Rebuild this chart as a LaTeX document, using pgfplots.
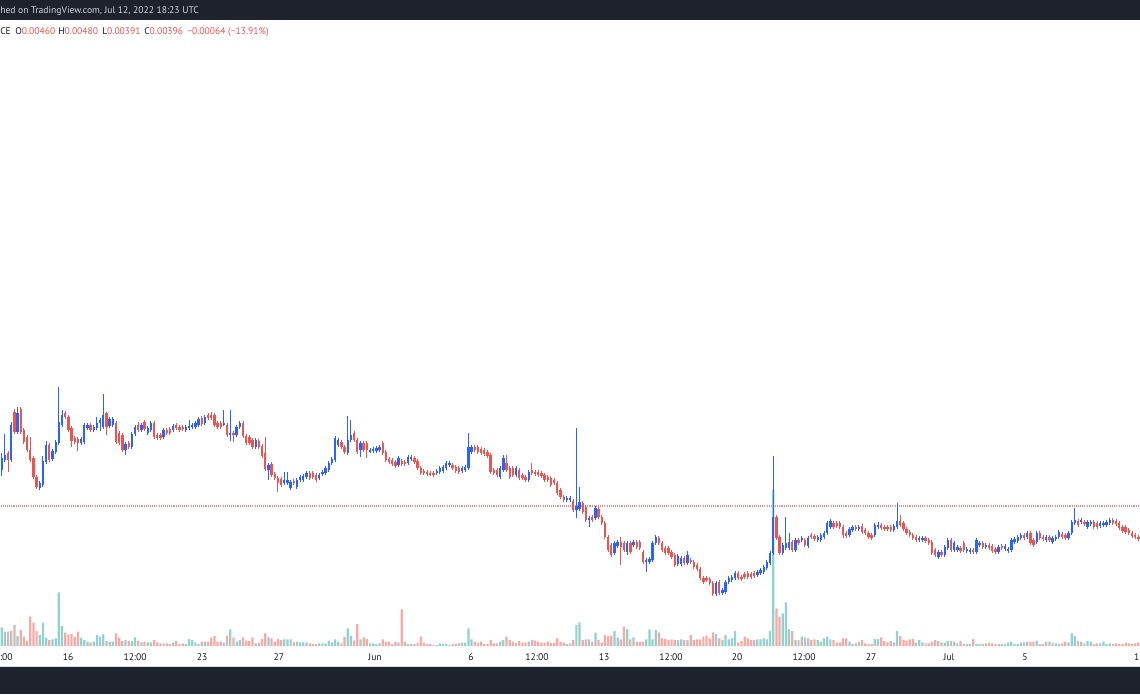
\documentclass[border=0pt]{standalone}
\usepackage{pgfplots}
\pgfplotsset{compat=1.18}
\usepackage{pgfplotstable}
\usepackage{fontspec}
\setmainfont{PT Sans}
\definecolor{tvblue}{HTML}{2962FF}
\definecolor{tvred}{HTML}{EF5350}
\definecolor{volup}{HTML}{92D2CC}
\definecolor{voldn}{HTML}{F7A9A7}
\definecolor{tvdark}{HTML}{1E222D}
\definecolor{tvtext}{HTML}{131722}
\definecolor{tvlight}{HTML}{D1D4DC}
\definecolor{dotred}{HTML}{F08A88}
% 4h candles; prices in units of 0.00001 (396 = 0.00396); v = relative volume
\pgfplotstableread{
o h l c v
432 449 426 444 18.7
442 468 440 447 14.3
449 451 430 442 14.3
442 480 440 477 15
490 493 468 470 21
470 495 468 489 10
493 495 468 470 16
472 474 458 460 9.3
465 467 450 452 5
452 465 440 442 29.3
444 446 423 425 23.3
425 427 413 415 15
414 421 412 419 11
417 446 415 441 23.3
440 461 438 457 8.3
457 459 440 442 6
443 453 441 451 6.7
450 462 448 460 7.7
459 515 457 480 53.7
477 492 475 487 20
489 491 483 485 13.3
485 487 470 472 11.7
474 476 455 461 12
464 466 458 460 9.3
463 465 451 459 14.3
459 465 457 463 8.3
460 479 458 477 6
474 479 472 477 4.3
477 479 470 472 3.7
472 477 470 475 4.3
474 485 472 479 11
479 484 471 482 9.3
475 508 473 487 11.7
489 490 467 475 5
476 485 474 483 4.3
477 485 475 483 4.3
479 481 458 460 12.7
469 471 457 459 8.3
467 469 450 452 5
452 460 447 458 6
459 461 453 455 5
455 470 453 468 5
468 477 466 475 8.7
477 480 470 472 5.3
472 479 470 477 3.7
480 482 471 473 4.3
469 476 467 474 3.7
472 481 470 479 3.7
479 481 463 465 6
467 469 462 464 3.7
467 469 462 464 2.7
465 474 463 472 2.7
472 474 467 469 2.7
473 475 467 469 2
472 478 470 476 3.3
477 479 472 474 5
475 477 470 472 2
475 477 471 473 2.7
472 477 470 475 2
474 482 472 476 7
475 479 473 477 6
475 481 473 479 3.7
477 485 475 483 2
484 486 476 478 4.3
479 487 477 485 4.3
487 489 482 484 4.3
487 490 482 484 8.3
487 489 475 477 10
479 481 473 475 4.3
479 481 473 475 4.3
478 492 476 479 3.3
477 479 465 467 10.3
468 492 461 469 16.7
469 471 460 467 8.3
467 477 465 475 4.3
475 481 473 479 6
479 481 464 466 8.7
466 468 457 459 5.3
465 467 457 459 5
462 464 453 455 8.7
455 464 453 462 2.7
461 463 453 455 3.3
456 458 444 446 7
449 465 431 433 12.7
432 439 422 437 8.7
438 440 425 427 7.7
428 430 422 424 4.3
424 426 410 419 7
423 425 415 417 6
419 430 417 422 6.7
419 430 417 422 6.7
414 422 412 420 6.7
421 423 417 419 3.7
415 424 413 422 4.3
422 427 420 425 3.7
422 428 420 426 3.7
425 431 423 429 3.7
429 431 422 424 2.7
429 431 423 425 2
427 429 420 422 2
424 429 422 427 2.7
428 432 426 430 2.7
429 436 427 434 2.7
432 441 430 439 5.3
439 445 437 443 3.7
442 466 440 464 6.7
457 464 455 462 4.3
460 462 453 455 2.7
455 457 448 450 9.3
449 486 447 462 17.7
462 482 460 467 10.3
469 471 460 462 5.3
462 464 448 450 22
452 461 445 459 6.7
459 461 450 452 8.7
459 461 444 452 7
451 454 449 452 2.7
451 455 449 453 2.7
451 456 449 454 2
452 457 450 455 2.7
459 461 447 449 6.7
450 452 440 442 4.3
443 445 438 440 4.3
442 444 436 438 2
440 442 434 436 4.3
437 446 435 444 3.3
441 443 436 438 36.7
440 442 436 438 4.3
439 447 437 445 2
443 447 441 445 2
444 446 438 440 2
441 443 432 434 3.3
434 436 427 429 9.3
431 433 427 429 3.3
430 432 426 428 2
429 431 426 428 2
429 431 425 427 1
429 433 427 431 1
430 436 428 434 2.7
431 437 429 435 2
434 441 432 439 2
437 441 435 439 1
437 439 432 434 2
435 437 429 431 2
434 436 428 430 2.7
431 436 429 434 3.3
432 437 430 435 3.3
434 469 432 455 17.7
450 457 448 455 6.7
455 457 450 452 4.3
455 457 448 450 3.3
453 455 447 449 4.3
452 454 446 448 2
450 452 444 446 2
447 449 428 430 6
432 434 427 429 2.7
432 434 425 427 2.7
425 436 423 434 4.3
432 447 430 444 6
439 447 430 432 9.3
434 436 423 425 6
434 436 425 427 4.3
427 436 425 434 3.3
432 434 422 424 5
427 429 422 424 3.3
425 427 420 422 3.3
422 432 420 430 4.3
432 439 427 429 6
430 432 426 428 5.3
430 432 425 427 4.3
429 431 424 426 3.3
427 429 420 422 3.3
425 427 420 422 4.3
424 426 415 417 3.3
422 424 417 419 3.3
419 421 407 409 7.7
412 414 403 405 4.3
405 407 400 402 3.3
402 406 400 404 2
402 406 400 404 2.7
401 403 390 392 6
392 474 384 396 21
393 415 391 400 23.7
399 401 388 390 6
395 397 380 382 6.7
382 386 375 384 6.7
385 387 380 382 4.3
384 396 382 394 13.3
393 395 383 385 6
385 387 377 379 3.3
379 381 363 365 11
365 367 350 352 10
357 359 345 347 10.3
349 361 347 359 15
356 362 354 360 8.3
360 365 337 355 6.7
359 361 350 352 19.3
350 361 347 359 16.7
359 361 348 350 6.7
357 362 355 360 8.7
360 362 353 355 4.3
360 362 352 354 4.3
350 352 338 340 4.3
340 344 330 342 6.7
340 345 338 343 16.7
342 361 340 359 6.7
359 367 357 365 16
364 366 357 359 13.7
359 361 350 352 7.7
354 356 347 349 7
354 356 347 349 6
350 352 343 345 6.7
347 349 335 337 6
338 348 336 346 6
338 346 336 344 6.7
344 346 337 339 6
339 351 337 347 6
342 344 338 340 11
340 342 333 335 6
337 339 331 333 6.7
333 335 322 324 6.7
324 326 318 320 9.3
324 326 320 322 10.3
323 325 317 319 7.7
319 321 306 308 13.7
308 321 306 319 12
320 322 307 309 7.7
309 314 307 312 6
310 322 308 320 11
320 326 318 324 6.7
322 327 320 325 7.7
324 331 322 329 15
329 331 322 324 3.7
325 327 321 323 5
328 330 323 325 9.3
329 331 323 325 7.7
328 330 323 325 6
329 331 324 326 6
327 332 325 330 6.7
329 334 327 332 6.7
330 337 328 335 7.7
334 342 332 340 6.7
339 351 337 349 15
349 446 347 385 156
385 387 362 364 37.7
365 367 347 349 29.3
349 359 347 357 32.7
354 385 352 359 43.7
354 369 352 360 16.7
360 362 350 352 15
352 364 350 362 6
362 364 357 359 6
362 366 360 364 9.3
362 364 355 357 8.7
356 366 354 364 7.7
367 369 363 365 6
366 368 361 363 6.7
362 367 360 365 6
362 369 360 367 4.3
365 371 363 369 7.7
369 381 367 379 9.3
375 383 373 381 6.7
379 381 373 375 6
379 381 374 376 3.7
379 381 373 375 3.7
375 377 364 367 7.7
369 371 364 366 7.7
367 375 365 373 4.3
372 377 370 375 2
375 377 371 373 2.7
373 377 371 375 4.3
376 378 368 370 6
372 374 367 369 2.7
369 371 363 365 2
367 369 362 364 2
367 379 365 377 7
375 380 373 377 7
377 379 372 374 8.7
375 377 371 373 5
375 377 371 373 3.7
375 377 370 372 5
372 378 370 376 3.7
375 399 373 381 15
381 387 375 377 10
379 381 371 373 6
373 375 367 369 5.3
370 372 365 367 6.7
367 369 362 364 7
365 367 360 362 3.3
362 366 360 364 6
362 366 360 364 3.7
364 366 359 361 2.7
362 364 357 359 2.7
360 362 347 349 4.3
352 354 345 347 6
345 352 343 350 5
350 352 345 347 3.7
347 357 345 355 3.3
354 364 352 362 5
362 364 350 352 5
352 361 350 359 4.3
352 357 350 355 2.7
354 356 349 351 5
359 361 350 352 2
351 355 349 353 2
350 354 348 352 2
352 354 348 350 7
350 364 348 362 2
357 361 355 359 2
359 361 353 355 2
355 359 353 357 2.7
357 359 352 354 3.3
356 358 349 351 2.7
353 355 348 350 2
350 357 348 355 2
356 358 352 354 2
353 358 351 356 2
351 355 349 353 3.3
352 364 350 362 4.3
360 365 358 363 2
361 367 359 365 2
364 369 362 367 3.3
367 369 362 364 3.7
365 371 363 369 4.3
369 371 357 359 4.3
362 364 355 357 4.3
360 371 358 369 5.3
369 371 362 364 2
365 367 361 363 2
362 367 360 365 4.3
365 367 360 362 4.3
360 366 358 364 3.3
363 367 361 365 2.7
365 372 363 370 2
368 370 363 365 2.7
367 369 362 364 4.3
364 371 362 369 3.7
369 382 367 380 12.7
379 394 377 382 10
381 383 375 377 5
380 384 378 382 4.3
380 382 376 378 2.7
375 382 373 380 5
378 382 376 380 4.3
380 382 373 375 2
379 381 373 375 2.7
376 381 374 379 2.7
377 381 375 379 4.3
377 382 375 380 2
379 384 377 382 2.7
382 384 377 379 2
381 383 376 378 2.7
379 381 372 374 2
375 377 369 371 2
375 377 368 370 3.3
372 374 367 369 2.7
369 371 364 366 2
367 369 363 365 2.7
365 367 361 363 3.3
}\candles
\pgfplotsset{
  wick/.style={draw=none, mark=none, restrict y to domain=0:2000,
    error bars/.cd, y dir=both, y explicit, error mark=none,
    error bar style={draw=#1, solid, line width=0.75pt}},
  body/.style={draw=none, mark=none, restrict y to domain=0:2000,
    error bars/.cd, y dir=both, y explicit, error mark=none,
    error bar style={draw=#1, solid, line width=1.75pt}},
}
\begin{document}
\begin{tikzpicture}
\useasboundingbox (0,0) rectangle (855pt,520.5pt);
\clip (0,0) rectangle (855pt,520.5pt);
\fill[white] (0,0) rectangle (855pt,520.5pt);
% volume pane
\begin{axis}[at={(0pt,34.5pt)}, anchor=south west, scale only axis,
  width=855pt, height=471pt, xmin=-0.535, xmax=358.52, ymin=-2, ymax=626, hide axis]
\addplot[ybar, bar width=0.7, bar shift=0pt, fill=volup, draw=none, restrict y to domain=0:1000]
  table[x expr=\coordindex, y expr={\thisrow{c}>=\thisrow{o} ? \thisrow{v} : -1}] {\candles};
\addplot[ybar, bar width=0.7, bar shift=0pt, fill=voldn, draw=none, restrict y to domain=0:1000]
  table[x expr=\coordindex, y expr={\thisrow{c}<\thisrow{o} ? \thisrow{v} : -1}] {\candles};
\end{axis}
% price pane
\begin{axis}[at={(0pt,34.5pt)}, anchor=south west, scale only axis,
  width=855pt, height=471pt, xmin=-0.535, xmax=358.52, ymin=254, ymax=882,
  axis line style={draw=none}, major tick length=0pt, ytick=\empty,
  xtick={-0.2,20.9,42.0,63.1,87.3,117.6,147.8,168.6,189.7,210.8,231.6,252.7,273.8,298.4,322.3,358.3},
  xticklabels={12:00,16,12:00,23,27,Jun,6,12:00,13,12:00,20,12:00,27,Jul,5,11},
  xticklabel style={anchor=base, yshift=-9.4pt, inner sep=0pt, font=\fontsize{7.2}{8.6}\selectfont, text=tvtext}]
\addplot[draw=dotred, line width=0.8pt, dash pattern=on 0.8pt off 0.8pt] coordinates {(-1,396) (360,396)};
\addplot[wick=tvblue] table[x expr=\coordindex,
  y expr={\thisrow{c}>=\thisrow{o} ? (\thisrow{h}+\thisrow{l})/2 : -100},
  y error expr={(\thisrow{h}-\thisrow{l})/2}] {\candles};
\addplot[wick=tvred] table[x expr=\coordindex,
  y expr={\thisrow{c}<\thisrow{o} ? (\thisrow{h}+\thisrow{l})/2 : -100},
  y error expr={(\thisrow{h}-\thisrow{l})/2}] {\candles};
\addplot[body=tvblue] table[x expr=\coordindex,
  y expr={\thisrow{c}>=\thisrow{o} ? (\thisrow{o}+\thisrow{c})/2 : -100},
  y error expr={abs(\thisrow{c}-\thisrow{o})/2}] {\candles};
\addplot[body=tvred] table[x expr=\coordindex,
  y expr={\thisrow{c}<\thisrow{o} ? (\thisrow{o}+\thisrow{c})/2 : -100},
  y error expr={abs(\thisrow{c}-\thisrow{o})/2}] {\candles};
\end{axis}
\begin{scope}[x=0.75pt, y=-0.75pt, shift={(0pt,520.5pt)},
  every node/.style={inner sep=0pt, anchor=base west, font=\fontsize{7.2}{8.6}\selectfont}]
\fill[tvdark] (0,0) rectangle (1140,20);
\fill[tvdark] (0,667) rectangle (1140,694);
\fill[tvlight!70] (0,665.5) rectangle (1140,667);
\node[text=tvlight] at (0,13.5) {hed on TradingView.com, Jul 12, 2022 18:23 UTC};
\node[text=tvtext] at (0,35) {CE};
\node[text=tvtext] at (15,35) {O\textcolor{tvred}{0.00460}};
\node[text=tvtext] at (58,35) {H\textcolor{tvred}{0.00480}};
\node[text=tvtext] at (102,35) {L\textcolor{tvred}{0.00391}};
\node[text=tvtext] at (144,35) {C\textcolor{tvred}{0.00396}};
\node[text=tvred] at (187,35) {−0.00064 (−13.91\%)};
\end{scope}
\end{tikzpicture}
\end{document}
